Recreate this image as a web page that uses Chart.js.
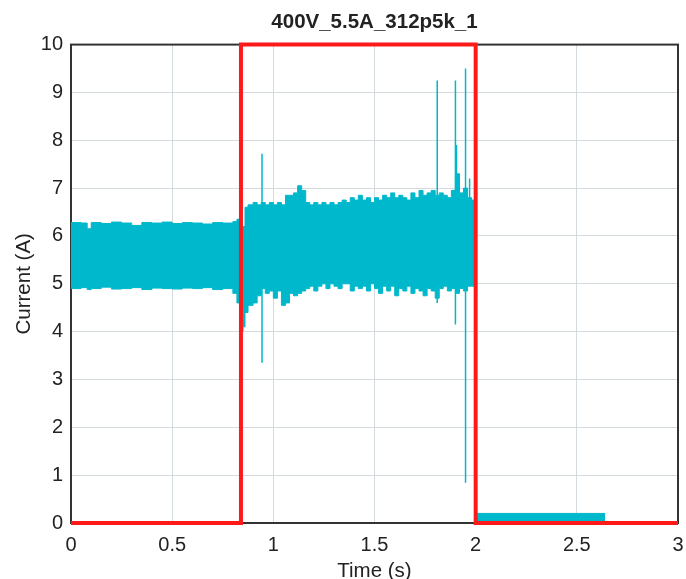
<!DOCTYPE html>
<html lang="en">
<head>
    <meta charset="UTF-8">
    <title>400V_5.5A_312p5k_1</title>
    <script src="https://cdn.jsdelivr.net/npm/chart.js"></script>
    <style>
        body {
            margin: 0;
            background-color: #ffffff;
        }
        .card {
            width: 686px;
            height: 579px;
        }
    </style>
</head>
<body>
    <div class="card">
        <canvas id="currentChart" width="686" height="579"></canvas>
    </div>

    <script>
        // Envelope of the noisy current trace
        const bandTime = [0.00, 0.05, 0.08, 0.10, 0.15, 0.20, 0.25, 0.30, 0.35, 0.40, 0.45, 0.50, 0.55, 0.60, 0.65, 0.70, 0.75, 0.80, 0.82, 0.84,
            0.85, 0.86, 0.875, 0.90, 0.92, 0.94, 0.96, 0.98, 1.00, 1.02, 1.04, 1.06, 1.08, 1.10, 1.12, 1.14, 1.16, 1.18, 1.20,
            1.22, 1.24, 1.26, 1.28, 1.30, 1.32, 1.34, 1.36, 1.38, 1.40, 1.42, 1.44, 1.46, 1.48, 1.50, 1.52, 1.54, 1.56, 1.58, 1.60,
            1.62, 1.64, 1.66, 1.68, 1.70, 1.72, 1.74, 1.76, 1.78, 1.80, 1.82, 1.84, 1.86, 1.88, 1.90, 1.92, 1.94, 1.96, 1.98, 2.00];
        const bandHigh = [6.28, 6.27, 6.15, 6.28, 6.26, 6.29, 6.27, 6.22, 6.28, 6.27, 6.29, 6.26, 6.28, 6.27, 6.25, 6.28, 6.27, 6.30, 6.35, 5.90,
            6.20, 6.60, 6.65, 6.70, 6.65, 6.70, 6.65, 6.70, 6.65, 6.70, 6.65, 6.85, 6.85, 6.90, 7.05, 6.95, 6.70, 6.65, 6.70,
            6.65, 6.70, 6.65, 6.70, 6.65, 6.70, 6.75, 6.70, 6.80, 6.75, 6.85, 6.75, 6.80, 6.70, 6.80, 6.75, 6.85, 6.80, 6.90, 6.80,
            6.85, 6.80, 6.75, 6.90, 6.80, 6.95, 6.85, 6.90, 6.95, 6.85, 6.90, 6.85, 6.80, 6.95, 7.30, 6.90, 7.00, 6.80, 6.75, 6.70];
        const bandLow = [4.90, 4.92, 4.88, 4.90, 4.93, 4.89, 4.90, 4.92, 4.88, 4.91, 4.90, 4.89, 4.91, 4.90, 4.92, 4.88, 4.90, 4.80, 4.60, 4.00,
            4.10, 4.40, 4.55, 4.60, 4.75, 4.90, 4.80, 4.85, 4.70, 4.85, 4.55, 4.60, 4.80, 4.75, 4.80, 4.85, 4.90, 4.95, 4.85,
            4.95, 5.00, 4.90, 5.00, 4.95, 4.90, 5.00, 5.00, 4.85, 4.95, 4.90, 4.95, 4.85, 5.00, 4.90, 4.80, 4.95, 4.85, 4.95, 4.75,
            4.90, 4.85, 4.95, 4.80, 4.90, 4.85, 4.75, 4.90, 4.85, 4.70, 4.90, 4.95, 4.85, 4.90, 4.80, 4.90, 4.85, 4.95, 4.95, 4.95];

        // Low-level tail after the switch-off
        const tailTime = [2.00, 2.64];
        const tailHigh = [0.20, 0.20];
        const tailLow = [0.02, 0.02];

        // Isolated spikes
        const spikeTime = [0.944, 1.81, 1.90, 1.905, 1.915, 1.95, 1.97];
        const spikeHigh = [7.72, 9.25, 9.25, 7.90, 7.26, 9.50, 7.20];
        const spikeLow = [3.35, 4.60, 4.15, 5.00, 5.00, 0.84, 5.00];

        // Red highlight box
        const boxTime = [0, 0.84, 0.84, 2.0, 2.0, 3];
        const boxLevel = [0, 0, 10, 10, 0, 0];

        const xTicks = [0, 0.5, 1, 1.5, 2, 2.5, 3];

        const cyan = '#00b8cb';
        const fontFamily = 'Liberation Sans, Arial, sans-serif';

        function pairs(xs, ys) {
            return xs.map((x, i) => ({ x: x, y: ys[i] }));
        }

        const spikeData = [];
        spikeTime.forEach((t, i) => {
            spikeData.push({ x: t, y: spikeHigh[i] });
            spikeData.push({ x: t, y: spikeLow[i] });
            spikeData.push({ x: t, y: null });
        });

        // frame round the plot area
        const frame = {
            id: 'frame',
            beforeDatasetsDraw(chart) {
                const a = chart.chartArea;
                const ctx = chart.ctx;
                ctx.save();
                ctx.strokeStyle = '#333333';
                ctx.lineWidth = 2;
                ctx.strokeRect(a.left, a.top, a.right - a.left, a.bottom - a.top);
                ctx.restore();
            }
        };

        new Chart(document.getElementById('currentChart').getContext('2d'), {
            type: 'line',
            data: {
                datasets: [{
                    data: pairs(boxTime, boxLevel),
                    borderColor: '#ff1a1a',
                    borderWidth: 4,
                    pointRadius: 0,
                    fill: false,
                    clip: 4
                }, {
                    data: spikeData,
                    borderColor: cyan,
                    borderWidth: 1.5,
                    pointRadius: 0,
                    spanGaps: false,
                    fill: false
                }, {
                    data: pairs(bandTime, bandHigh),
                    borderColor: cyan,
                    backgroundColor: cyan,
                    borderWidth: 1,
                    pointRadius: 0,
                    stepped: true,
                    fill: '+1'
                }, {
                    data: pairs(bandTime, bandLow),
                    borderColor: cyan,
                    borderWidth: 1,
                    pointRadius: 0,
                    stepped: true,
                    fill: false
                }, {
                    data: pairs(tailTime, tailHigh),
                    borderColor: cyan,
                    backgroundColor: cyan,
                    borderWidth: 1,
                    pointRadius: 0,
                    fill: '+1'
                }, {
                    data: pairs(tailTime, tailLow),
                    borderColor: cyan,
                    borderWidth: 1,
                    pointRadius: 0,
                    fill: false
                }]
            },
            options: {
                responsive: false,
                animation: false,
                layout: { padding: { top: 4, right: 0, left: 12, bottom: 0 } },
                plugins: {
                    legend: { display: false },
                    tooltip: { enabled: false },
                    title: {
                        display: true,
                        fullSize: false,
                        text: '400V_5.5A_312p5k_1',
                        color: '#222222',
                        font: { family: fontFamily, size: 20.5, weight: 'bold' },
                        padding: { top: 6, bottom: 10 }
                    }
                },
                scales: {
                    x: {
                        type: 'linear',
                        min: 0,
                        max: 3,
                        afterBuildTicks: (scale) => { scale.ticks = xTicks.map(v => ({ value: v })); },
                        afterFit: (scale) => {
                            scale.height = 56;
                            scale.paddingLeft = 0;
                            scale.paddingRight = 8;
                        },
                        grid: { color: '#d3dbde', lineWidth: 1, drawTicks: false },
                        border: { display: false },
                        ticks: {
                            color: '#222222',
                            padding: 10,
                            maxRotation: 0,
                            callback: (v) => String(v),
                            font: { family: fontFamily, size: 20 }
                        },
                        title: {
                            display: true,
                            text: 'Time (s)',
                            color: '#222222',
                            padding: { top: 0, bottom: -3 },
                            font: { family: fontFamily, size: 20.5, lineHeight: 1 }
                        }
                    },
                    y: {
                        min: 0,
                        max: 10,
                        afterFit: (scale) => { scale.width = 59; },
                        ticks: {
                            stepSize: 1,
                            color: '#222222',
                            padding: 8,
                            callback: (v) => String(v),
                            font: { family: fontFamily, size: 20 }
                        },
                        grid: { color: '#d3dbde', lineWidth: 1, drawTicks: false },
                        border: { display: false },
                        title: {
                            display: true,
                            text: 'Current (A)',
                            color: '#222222',
                            padding: { top: 0, bottom: 0 },
                            font: { family: fontFamily, size: 20.5 }
                        }
                    }
                }
            },
            plugins: [frame]
        });
    </script>
</body>
</html>
